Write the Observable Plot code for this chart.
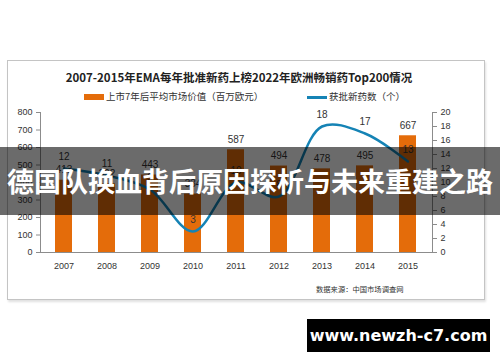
<!DOCTYPE html>
<html><head><meta charset="utf-8">
<script src="https://cdn.jsdelivr.net/npm/d3@7"></script>
<script src="https://cdn.jsdelivr.net/npm/@observablehq/plot@0.6"></script>
<style>
body{margin:0;width:500px;height:362px;position:relative;background:#fff;font-family:"Noto Sans CJK SC",sans-serif;overflow:hidden}
#frame{position:absolute;left:7px;top:60px;width:476px;height:238px;border:1px solid #c4c4c4;box-shadow:1px 2px 2px rgba(0,0,0,0.12)}
#title{position:absolute;left:0;top:68px;width:478px;text-align:center;font-size:11.5px;font-weight:bold;color:#222;line-height:18px;white-space:nowrap}
.leg{position:absolute;top:89px;font-size:9.5px;color:#333;line-height:14px;white-space:nowrap}
.sw{display:inline-block;vertical-align:middle;margin-right:2px}
#chart{position:absolute;left:0;top:100px}
#caption{position:absolute;left:316px;top:284px;font-size:7.3px;color:#333;white-space:nowrap}
#banner{position:absolute;left:0;top:147px;width:500px;height:68px;background:rgba(0,0,0,0.58);color:#fff;font-weight:bold;font-size:27px;line-height:68px;text-align:center;white-space:nowrap;letter-spacing:0}
#mark{position:absolute;left:307px;top:319px;width:183px;height:33px;background:#000;color:#fff;font-family:"DejaVu Sans",sans-serif;font-weight:bold;font-size:16px;line-height:33px;text-align:center;white-space:nowrap}
</style></head><body>
<div id="frame"></div>
<div id="title"></div>
<div class="leg" id="leg1" style="left:84px"><span class="sw" style="width:20px;height:6px;background:#E46C0A"></span><span id="leg1t"></span></div>
<div class="leg" id="leg2" style="left:307px"><span class="sw" style="width:20px;height:3px;background:#1583B5"></span><span id="leg2t"></span></div>
<div id="chart"></div>
<div id="caption"></div>
<div id="banner"></div>
<div id="mark"></div>
<script>
const titleText = "2007-2015年EMA每年批准新药上榜2022年欧洲畅销药Top200情况";
const barLegend = "上市7年后平均市场价值（百万欧元）";
const lineLegend = "获批新药数（个）";
const captionText = "数据来源：中国市场调查网";
const bannerText = "德国队换血背后原因探析与未来重建之路";
const markText = "www.newzh-c7.com";

const years = ["2007", "2008", "2009", "2010", "2011", "2012", "2013", "2014", "2015"];
const marketValue = [413, 392, 443, 334, 587, 494, 478, 495, 667];
const approvals = [12, 11, 9, 3, 10, 8, 18, 17, 13];
const leftTicks = [0, 100, 200, 300, 400, 500, 600, 700, 800];
const rightTicks = [0, 2, 4, 6, 8, 10, 12, 14, 16, 18, 20];

document.getElementById("title").textContent = titleText;
document.getElementById("leg1t").textContent = barLegend;
document.getElementById("leg2t").textContent = lineLegend;
document.getElementById("caption").textContent = captionText;
document.getElementById("banner").textContent = bannerText;
document.getElementById("mark").textContent = markText;

const ratio = 800 / 20;
const rows = years.map((y, i) => ({year: y, value: marketValue[i], count: approvals[i]}));
const axisColor = "#8c8c8c";
const font = "Liberation Sans, Arial, sans-serif";

const chart = Plot.plot({
  width: 500, height: 180,
  marginLeft: 40, marginRight: 68, marginTop: 12, marginBottom: 28,
  style: {fontFamily: font, fontSize: "9px", color: "#333", background: "transparent"},
  x: {domain: years, paddingInner: 0.6, paddingOuter: 0.3},
  y: {domain: [0, 800]},
  marks: [
    Plot.barY(rows, {x: "year", y: "value", fill: "#E46C0A"}),
    Plot.frame({anchor: "left", stroke: axisColor}),
    Plot.frame({anchor: "right", stroke: axisColor}),
    Plot.frame({anchor: "bottom", stroke: axisColor}),
    Plot.axisY(leftTicks, {anchor: "left", tickSize: 4, tickPadding: 4, stroke: axisColor, label: null, fill: "#333"}),
    Plot.axisY(rightTicks.map(d => d * ratio), {anchor: "right", tickSize: 4, tickPadding: 4, stroke: axisColor, label: null, fill: "#333", tickFormat: d => d / ratio}),
    Plot.axisX({tickSize: 0, tickPadding: 10, label: null, fill: "#333"}),
    Plot.line(rows, {x: "year", y: d => d.count * ratio, stroke: "#1583B5", strokeWidth: 2.5, curve: "catmull-rom"}),
    Plot.text(rows, {x: "year", y: "value", text: d => String(d.value), dy: -10, fontSize: 10, fill: "#333"}),
    Plot.text(rows, {x: "year", y: d => d.count * ratio, text: d => String(d.count), dy: -12, fontSize: 10, fill: "#333"})
  ]
});
document.getElementById("chart").appendChild(chart);
</script>
</body></html>
